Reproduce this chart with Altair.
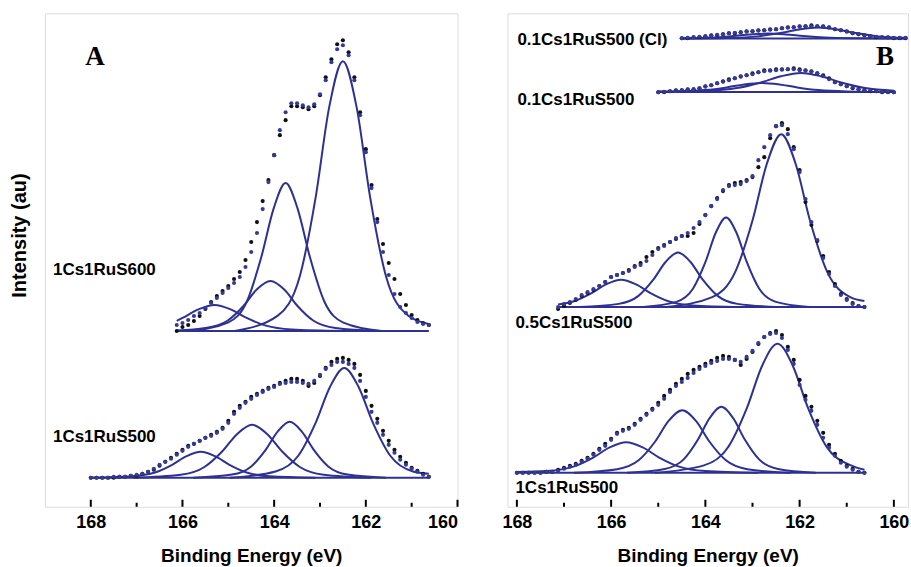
import altair as alt
import pandas as pd

FONT = "Liberation Sans"
SERIF = "Liberation Serif"
LINE = "#2e3192"
BLUE_DOT = "#34399a"
BLACK_DOT = "#111111"

tick_major = [168, 166, 164, 162, 160]
tick_minor = [167, 165, 163, 161]
DOT_STEP = 0.125

panel_a_labels = ["1Cs1RuS600", "1Cs1RuS500"]
panel_b_labels = ["0.1Cs1RuS500 (Cl)", "0.1Cs1RuS500", "0.5Cs1RuS500", "1Cs1RuS500"]

# ---------------- Panel A : 1Cs1RuS600 ----------------
a600_start = 166.125
a600_blue = [182, 184, 187, 191, 194, 199, 204, 209, 214, 219, 224, 230, 240, 255, 274, 298, 325, 352, 377, 395,
             404, 404, 402, 400, 403, 413, 427, 445, 458, 462, 452, 427, 392, 355, 319, 285, 255, 232, 213, 200,
             194, 189, 185, 183, 182]
a600_black = [176, 180, 182, 186, 191, 198, 205, 211, 216, 221, 228, 235, 247, 265, 285, 306, 327, 352, 372, 387,
              401, 401, 400, 398, 401, 412, 430, 448, 463, 467, 455, 430, 395, 358, 322, 288, 263, 244, 228, 213,
              202, 192, 187, 184, 182]
a600_base_E = [166.125, 160.625]
a600_base_v = [176, 176]
a600_comp_E = [
    [166.125, 166.0, 165.65, 165.3, 164.95, 164.6, 164.18, 163.62, 162.5],
    [166.125, 165.5, 165.02, 164.67, 164.38, 164.08, 163.78, 163.49, 163.14, 162.66, 161.72],
    [165.85, 165.01, 164.59, 164.28, 164.01, 163.75, 163.49, 163.22, 162.91, 162.49, 161.65],
    [164.86, 163.92, 163.44, 163.09, 162.8, 162.5, 162.2, 161.91, 161.56, 161.08, 160.625],
]
a600_comp_v = [
    [186, 189, 197.6, 202, 197.6, 189, 181.3, 177.5, 176],
    [176.5, 178.9, 186.2, 201, 217.5, 226, 217.5, 201, 186.2, 178.9, 176],
    [176, 184.4, 206, 250, 298.7, 324, 298.7, 250, 206, 184.4, 176],
    [176, 191.4, 230.8, 311, 399.8, 446, 399.8, 311, 230.8, 191.4, 183],
]

# ---------------- Panel A : 1Cs1RuS500 ----------------
a500_start = 168.0
a500_blue = [29, 29, 29, 29, 30, 30, 30, 31, 32, 33, 35, 38, 42, 45, 48, 52, 56, 60, 63, 66,
             69, 71, 74, 78, 84, 93, 99, 104, 108, 112, 115, 118, 120, 123, 124, 125, 125, 124, 123, 126,
             132, 138, 142, 145, 145, 143, 139, 126, 110, 95, 84, 72, 62, 54, 47, 42, 38, 35, 32, 30]
a500_black = [29, 29, 29, 29, 29, 30, 30, 31, 31, 33, 35, 37, 41, 45, 49, 53, 57, 61, 63, 66,
              69, 72, 75, 79, 86, 95, 101, 105, 110, 113, 116, 119, 121, 124, 126, 128, 128, 126, 121, 124,
              131, 139, 145, 148, 149, 147, 143, 132, 116, 101, 88, 76, 66, 57, 50, 44, 39, 36, 33, 30]
a500_base_E = [168.0, 160.625]
a500_base_v = [29, 29]
a500_comp_E = [
    [168.0, 167.1, 166.6, 166.225, 165.91, 165.6, 165.29, 164.975, 164.6, 164.1, 163.1],
    [167.08, 166.04, 165.52, 165.13, 164.805, 164.48, 164.155, 163.83, 163.44, 162.92, 161.88],
    [165.76, 164.92, 164.5, 164.185, 163.92, 163.66, 163.4, 163.135, 162.82, 162.4, 161.56],
    [164.97, 163.97, 163.47, 163.095, 162.78, 162.47, 162.16, 161.845, 161.47, 160.97, 160.625],
]
a500_comp_v = [
    [29, 30.5, 34.3, 42, 50.6, 55, 50.6, 42, 34.3, 30.5, 29],
    [29, 32, 39.8, 55.5, 72.9, 82, 72.9, 55.5, 39.8, 32, 29],
    [29, 32.2, 40.4, 57, 75.4, 85, 75.4, 57, 40.4, 32.2, 29],
    [29, 35.3, 51.3, 84, 120.2, 139, 120.2, 84, 51.3, 35.3, 33],
]

# ---------------- Panel B : 0.1Cs1RuS500 (Cl) ----------------
bcl_start = 164.5
bcl_blue = [469, 469.5, 470, 470.5, 471, 471.5, 472.5, 473, 474, 474.5, 475, 475.5, 476, 476.5, 477, 477.5,
            478, 479, 479.5, 480, 480.5, 481, 481, 481, 480.5, 479.5, 478, 477, 475.5, 474, 473, 472, 471,
            470.5, 470, 469.5, 469.5, 469.5, 469.5]
bcl_black = [469, 469, 470, 470, 471, 472, 472, 473, 474, 474, 475, 476, 476, 477, 477, 478, 478, 479, 480,
             480, 481, 481, 482, 481, 481, 480, 478, 477, 476, 474, 473, 472, 471, 470, 470, 470, 469, 469, 469]
bcl_base_E = [164.5, 159.75]
bcl_base_v = [468.7, 468.7]
bcl_comp_E = [
    [164.5, 163.87, 163.42, 163.045, 162.67, 162.295, 161.92, 161.47, 160.87, 159.75],
    [164.5, 163.53, 162.89, 162.41, 162.01, 161.61, 161.21, 160.81, 160.33, 159.75],
]
bcl_comp_v = [
    [469, 469.7, 471.2, 472.8, 473.7, 472.8, 471.2, 469.7, 469, 468.7],
    [468.8, 469.3, 470.9, 474.2, 477.8, 479.7, 477.8, 474.2, 470.9, 469.4],
]

# ---------------- Panel B : 0.1Cs1RuS500 ----------------
b01_start = 165.0
b01_blue = [415, 415.5, 416, 416.5, 417, 417.5, 418, 419, 420.5, 422, 424, 425.5, 427, 429, 430.5, 432, 433,
            435, 436, 436.5, 437, 437.5, 438, 438, 437, 436.5, 435.5, 434, 431, 428, 425, 423, 421, 419.5,
            418, 417, 416.5, 416, 415.5, 415.5, 415]
b01_black = [415, 415, 416, 417, 417, 418, 418, 419, 421, 422, 424, 426, 428, 429, 431, 432, 434, 435, 437,
             437, 438, 438, 438, 439, 438, 437, 436, 434, 432, 429, 425, 423, 421, 419, 418, 417, 416, 416,
             415, 415, 415]
b01_base_E = [165.0, 160.0]
b01_base_v = [415.3, 415.3]
b01_comp_E = [
    [165.0, 164.6, 164.0, 163.55, 163.175, 162.8, 162.425, 162.05, 161.6, 161.0, 160.0],
    [165.0, 164.01, 163.33, 162.82, 162.395, 161.97, 161.545, 161.12, 160.61, 160.0],
]
b01_comp_v = [
    [415.5, 415.8, 417.1, 419.8, 422.8, 424.3, 422.8, 419.8, 417.1, 415.8, 415.3],
    [415.6, 416.4, 419.2, 424.8, 431, 434.3, 431, 424.8, 419.2, 416.5],
]

# ---------------- Panel B : 0.5Cs1RuS500 ----------------
b05_start = 167.125
b05_blue = [200, 203, 205, 208, 212, 215, 218, 221, 225, 230, 232, 234, 236, 240, 242, 246, 252, 258, 261, 265,
            269, 271, 274, 279, 285, 292, 301, 308, 317, 321, 322, 323, 326, 331, 347, 360, 372, 381, 382, 373,
            358, 335, 308, 285, 267, 249, 233, 221, 212, 207, 203, 201, 200]
b05_black = [198, 201, 204, 207, 211, 214, 217, 221, 225, 230, 232, 234, 237, 241, 244, 250, 255, 259, 262, 265,
             268, 271, 271, 274, 283, 292, 301, 309, 316, 322, 324, 325, 327, 330, 340, 350, 369, 381, 384, 378,
             360, 337, 305, 282, 266, 251, 235, 223, 213, 208, 204, 201, 200]
b05_base_E = [167.125, 160.625]
b05_base_v = [200, 200]
b05_comp_E = [
    [167.125, 166.806, 166.425, 166.1075, 165.79, 165.47, 165.155, 164.77, 164.27, 163.25],
    [166.68, 165.84, 165.42, 165.105, 164.84, 164.58, 164.32, 164.055, 163.74, 163.32, 162.48],
    [165.32, 164.616, 164.264, 164.0, 163.78, 163.56, 163.34, 163.12, 162.856, 162.504, 161.8],
    [164.83, 163.854, 163.366, 163.0, 162.695, 162.39, 162.085, 161.78, 161.414, 160.926, 160.625],
]
b05_comp_v = [
    [202.5, 205.5, 213.7, 222.6, 227.3, 222.6, 213.7, 205.5, 201.6, 200],
    [200, 203.1, 211.1, 227.3, 245.3, 254.6, 245.3, 227.3, 211.1, 203.1, 200],
    [200, 205.1, 218.2, 244.8, 274.3, 289.6, 274.3, 244.8, 218.2, 205.1, 200],
    [200, 209.9, 235.1, 286.5, 343.4, 373, 343.4, 286.5, 235.1, 209.9, 206],
]

# ---------------- Panel B : 1Cs1RuS500 ----------------
b1_start = 168.0
b1_blue = [34, 34, 34, 34, 34, 35, 35, 36, 38, 40, 42, 45, 48, 52, 57, 61, 67, 73, 76, 78,
           82, 87, 92, 97, 102, 108, 115, 121, 125, 129, 134, 138, 141, 144, 146, 148, 148, 147, 145, 150,
           156, 164, 170, 173, 174, 169, 157, 143, 122, 107, 96, 82, 69, 59, 51, 44, 40, 37, 35, 34]
b1_black = [34, 34, 34, 34, 34, 35, 35, 37, 39, 41, 43, 46, 49, 53, 58, 63, 68, 74, 77, 79,
            83, 88, 93, 98, 104, 111, 117, 123, 128, 133, 137, 140, 143, 146, 149, 151, 150, 147, 142, 148,
            155, 163, 170, 174, 176, 172, 160, 147, 127, 111, 100, 86, 74, 62, 53, 46, 41, 38, 35, 34]
b1_base_E = [168.0, 160.625]
b1_base_v = [34, 34]
b1_comp_E = [
    [168.0, 167.36, 166.8, 166.38, 166.03, 165.68, 165.33, 164.98, 164.56, 164.0, 162.88],
    [166.79, 165.87, 165.41, 165.065, 164.78, 164.49, 164.2, 163.915, 163.57, 163.11, 162.19],
    [165.66, 164.86, 164.46, 164.16, 163.91, 163.66, 163.41, 163.16, 162.86, 162.46, 161.66],
    [165.07, 164.03, 163.51, 163.12, 162.795, 162.47, 162.145, 161.82, 161.43, 160.91, 160.625],
]
b1_comp_v = [
    [34.7, 35.7, 40.2, 49.3, 59.4, 64.6, 59.4, 49.3, 40.2, 35.7, 34],
    [34, 37.6, 46.7, 65.3, 85.9, 96.6, 85.9, 65.3, 46.7, 37.6, 34],
    [34, 37.8, 47.4, 67, 88.7, 100, 88.7, 67, 47.4, 37.8, 34],
    [34, 41.4, 60.2, 98.7, 141.2, 163.3, 141.2, 98.7, 60.2, 41.4, 37],
]


# ---------------- table building ----------------
def line_table(spectra):
    rows = []
    for name, base_E, base_v, comp_E, comp_v in spectra:
        for e, v in zip(base_E, base_v):
            rows.append({"E": e, "v": v, "curve": name + "-base"})
        for k, (es, vs) in enumerate(zip(comp_E, comp_v)):
            for e, v in zip(es, vs):
                rows.append({"E": e, "v": v, "curve": f"{name}-c{k}"})
    return pd.DataFrame(rows)


def dot_table(spectra):
    rows = []
    for name, start, blue, black in spectra:
        for i, v in enumerate(blue):
            rows.append({"E": round(start - i * DOT_STEP, 4), "v": v, "kind": "blue", "spec": name})
        for i, v in enumerate(black):
            rows.append({"E": round(start - i * DOT_STEP, 4), "v": v, "kind": "black", "spec": name})
    return pd.DataFrame(rows)


lines_a = line_table([
    ("a600", a600_base_E, a600_base_v, a600_comp_E, a600_comp_v),
    ("a500", a500_base_E, a500_base_v, a500_comp_E, a500_comp_v),
])
dots_a = dot_table([
    ("a600", a600_start, a600_blue, a600_black),
    ("a500", a500_start, a500_blue, a500_black),
])
lines_b = line_table([
    ("bcl", bcl_base_E, bcl_base_v, bcl_comp_E, bcl_comp_v),
    ("b01", b01_base_E, b01_base_v, b01_comp_E, b01_comp_v),
    ("b05", b05_base_E, b05_base_v, b05_comp_E, b05_comp_v),
    ("b1", b1_base_E, b1_base_v, b1_comp_E, b1_comp_v),
])
dots_b = dot_table([
    ("bcl", bcl_start, bcl_blue, bcl_black),
    ("b01", b01_start, b01_blue, b01_black),
    ("b05", b05_start, b05_blue, b05_black),
    ("b1", b1_start, b1_blue, b1_black),
])

H = 494
WA = 413
WB = 401
Y_SCALE = alt.Scale(domain=[0, 494], nice=False, zero=False)


def x_enc(domain):
    return alt.X(
        "E:Q",
        scale=alt.Scale(domain=domain, nice=False, zero=False),
        axis=alt.Axis(
            values=tick_major, format="d", ticks=False, tickSize=0, domain=False, grid=False,
            labelFont=FONT, labelFontSize=18, labelFontWeight="bold", labelColor="black",
            labelBaseline="alphabetic", labelPadding=21,
            title="Binding Energy (eV)", titleFont=FONT, titleFontSize=19, titleFontWeight="bold",
            titleColor="black", titleBaseline="alphabetic", titleY=55,
        ),
    )


def panel(lines, dots, domain, width, y_axis, labels, label_pos, letter, letter_pos):
    xe = x_enc(domain)
    ye = alt.Y("v:Q", scale=Y_SCALE, axis=y_axis)
    layers = []
    layers.append(
        alt.Chart(lines).mark_line(color=LINE, strokeWidth=2, interpolate="monotone").encode(
            x=xe, y=ye, detail="curve:N", order=alt.Order("E:Q", sort="descending")
        )
    )
    layers.append(
        alt.Chart(dots).transform_filter(alt.datum.kind == "black").mark_circle(
            size=17, opacity=1, color=BLACK_DOT
        ).encode(x=xe, y=ye)
    )
    layers.append(
        alt.Chart(dots).transform_filter(alt.datum.kind == "blue").mark_circle(
            size=17, opacity=1, color=BLUE_DOT
        ).encode(x=xe, y=ye)
    )
    layers.append(
        alt.Chart(pd.DataFrame({"E": tick_major})).mark_rule(color="black", strokeWidth=2).encode(
            x=xe, y=alt.value(H), y2=alt.value(H - 7)
        )
    )
    layers.append(
        alt.Chart(pd.DataFrame({"E": tick_minor})).mark_rule(color="black", strokeWidth=2).encode(
            x=xe, y=alt.value(H), y2=alt.value(H - 4)
        )
    )
    for lab, (lx, ly) in zip(labels, label_pos):
        layers.append(
            alt.Chart(pd.DataFrame({"t": [lab]})).mark_text(
                align="left", baseline="middle", font=FONT, fontSize=17, fontWeight="bold", color="black"
            ).encode(x=alt.value(lx), y=alt.value(ly), text="t:N")
        )
    layers.append(
        alt.Chart(pd.DataFrame({"t": [letter]})).mark_text(
            align="center", baseline="alphabetic", font=SERIF, fontSize=27, fontWeight="bold", color="black"
        ).encode(x=alt.value(letter_pos[0]), y=alt.value(letter_pos[1]), text="t:N")
    )
    return alt.layer(*layers).properties(width=width, height=H)


y_axis_a = alt.Axis(
    labels=False, ticks=False, domain=False, grid=False,
    title="Intensity (au)", titleFont=FONT, titleFontSize=20, titleFontWeight="bold", titleColor="black",
    titleAngle=270, titleAlign="center", titleBaseline="middle", titleX=-25, titleY=222,
)

chart_a = panel(lines_a, dots_a, [169, 160], WA, y_axis_a, panel_a_labels,
                [(8, 257), (8, 424)], "A", (50, 52))
chart_b = panel(lines_b, dots_b, [168.2, 159.7], WB, None, panel_b_labels,
                [(10, 27), (10, 87), (8, 310), (8, 475)], "B", (378, 52))

chart = alt.hconcat(chart_a, chart_b, spacing=50, bounds="flush").properties(
    padding={"left": 9, "top": 12, "right": 0, "bottom": 0}
).configure_view(stroke="black", strokeWidth=2).configure(background="white")

chart.save("out.html", embed_options={"renderer": "svg", "actions": False})
